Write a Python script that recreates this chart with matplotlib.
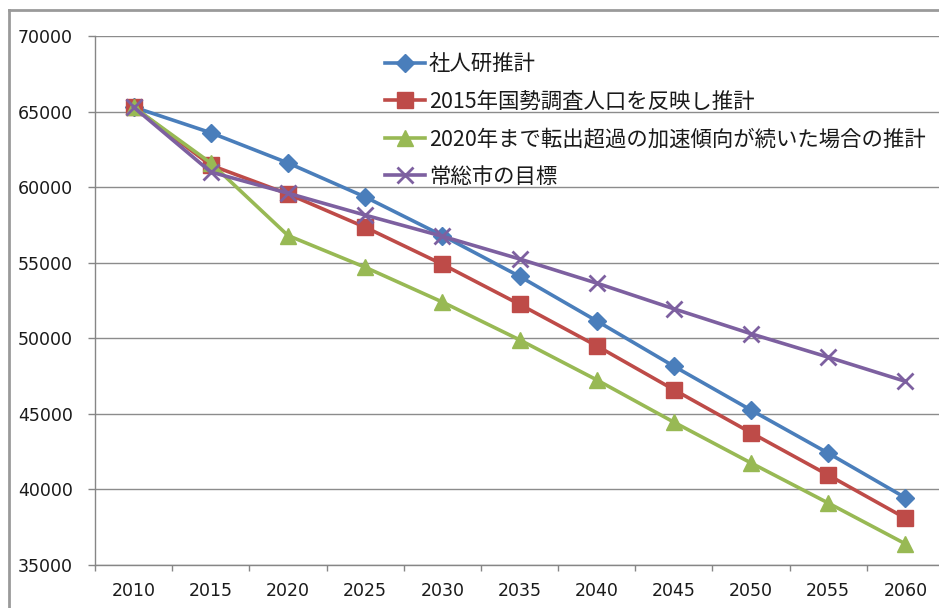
import matplotlib.pyplot as plt
from matplotlib.lines import Line2D
import numpy as np

# population projections (persons)
years = ['2010', '2015', '2020', '2025', '2030', '2035',
         '2040', '2045', '2050', '2055', '2060']
ipss = [65300, 63600, 61600, 59350, 56800, 54100, 51150, 48150, 45250, 42400, 39450]
census2015 = [65300, 61450, 59550, 57350, 54900, 52250, 49500, 46600, 43750, 40950, 38100]
outflow = [65300, 61600, 56800, 54700, 52400, 49900, 47250, 44450, 41750, 39100, 36400]
target = [65300, 61000, 59600, 58150, 56750, 55250, 53650, 51950, 50300, 48750, 47150]

labels = ['社人研推計', '2015年国勢調査人口を反映し推計',
          '2020年まで転出超過の加速傾向が続いた場合の推計', '常総市の目標']

plt.rcParams['font.family'] = ['DejaVu Sans']

fig = plt.figure(figsize=(9.39, 6.08), dpi=100)
ax = fig.add_axes([95/939, 1 - 565/608, (944 - 95)/939, (565 - 36)/608])

x = np.arange(len(years))
ax.plot(x, ipss, color='#4A7EBB', lw=2.6, marker='D', ms=9, label=labels[0])
ax.plot(x, census2015, color='#BE4B48', lw=2.6, marker='s', ms=11, label=labels[1])
ax.plot(x, outflow, color='#98B954', lw=2.6, marker='^', ms=11, label=labels[2])
ax.plot(x, target, color='#7D60A0', lw=2.6, marker='x', ms=11, mew=2, label=labels[3])

ax.set_ylim(35000, 70000)
ax.set_yticks(np.arange(35000, 70001, 5000))
ax.set_xlim(-0.5, len(years) - 0.5)
ax.set_xticks(np.arange(-0.5, len(years), 1.0))
ax.set_xticklabels([])
ax.set_xticks(x, minor=True)
ax.set_xticklabels(years, minor=True)
ax.tick_params(axis='x', which='major', length=4.5, color='#868686', width=1)
ax.tick_params(axis='x', which='minor', length=0, pad=12, labelsize=12.5, labelcolor='#1a1a1a')
ax.tick_params(axis='y', length=5, color='#868686', width=1, pad=11, labelsize=12.5,
               labelcolor='#1a1a1a')

ax.grid(axis='y', color='#8c8c8c', lw=1)
ax.set_axisbelow(True)
for s in ['top', 'right']:
    ax.spines[s].set_visible(False)
for s in ['left', 'bottom']:
    ax.spines[s].set_color('#868686')
    ax.spines[s].set_linewidth(1)

leg = ax.legend(loc='upper left', bbox_to_anchor=(385/939, 1 - 53/608),
                bbox_transform=fig.transFigure, frameon=False,
                prop={'family': ['Noto Sans CJK JP', 'DejaVu Sans'], 'size': 15.4},
                handlelength=1.86, handletextpad=0.2, labelspacing=0.73,
                borderaxespad=0, borderpad=0)
for t in leg.get_texts():
    t.set_color('#1a1a1a')

# outer chart frame
fig.add_artist(Line2D([9/939, 9/939], [0, 1 - 10/608], transform=fig.transFigure,
                      color='#9a9a9a', lw=2))
fig.add_artist(Line2D([9/939, 1], [1 - 10/608, 1 - 10/608], transform=fig.transFigure,
                      color='#9a9a9a', lw=2))

fig.savefig('out.png', dpi=100)
